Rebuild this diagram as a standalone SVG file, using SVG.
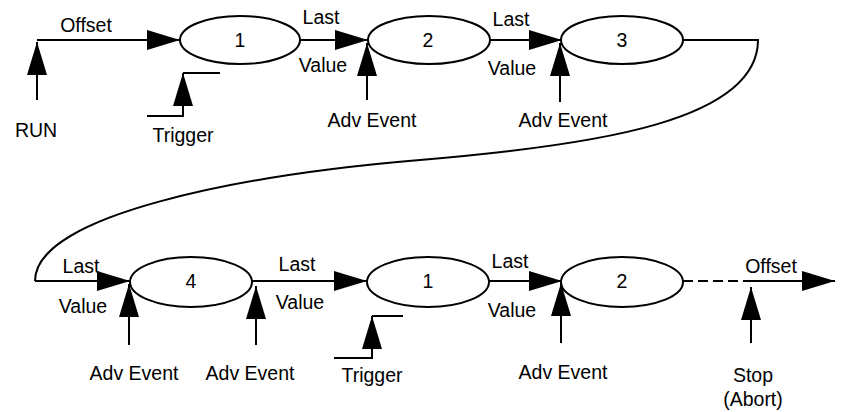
<svg xmlns="http://www.w3.org/2000/svg" width="843" height="412" viewBox="0 0 843 412">
<style>
.ln{fill:none;stroke:#000;stroke-width:2}
.ar{marker-end:url(#ah)}
.dash{stroke-dasharray:10 5}
.nd{fill:#fff;stroke:#000;stroke-width:2}
text{font-family:"Liberation Sans",Arial,sans-serif;font-size:19.5px;fill:#000;text-anchor:middle}
</style>
<defs>
<marker id="ah" viewBox="0 0 33 20" refX="33" refY="10" markerWidth="33" markerHeight="20" markerUnits="userSpaceOnUse" orient="auto">
<path d="M0,0 L33,10 L0,20 z" fill="#000"/>
</marker>
</defs>
<rect width="843" height="412" fill="#fff"/>
<g id="connectors">
<path class="ln ar" d="M37,40 H180"/>
<path class="ln ar" d="M37,100 V42"/>
<path class="ln ar" d="M147,116 H183 V73"/>
<path class="ln" d="M183,73 H220"/>
<path class="ln ar" d="M300,40 H368"/>
<path class="ln ar" d="M367,100 V43"/>
<path class="ln ar" d="M490,40 H562"/>
<path class="ln ar" d="M560,102 V43"/>
<path class="ln" d="M683,40 H758 C758,120 600,145 420,160 S35,215 35,281"/>
<path class="ln ar" d="M35,281 H130"/>
<path class="ln ar" d="M129,345 V284"/>
<path class="ln ar" d="M252,281 H367"/>
<path class="ln ar" d="M256,345 V286"/>
<path class="ln ar" d="M334,358 H372 V316"/>
<path class="ln" d="M372,316 H403"/>
<path class="ln ar" d="M488,281 H562"/>
<path class="ln ar" d="M561,343 V283"/>
<path class="ln dash" d="M683,281 H750"/>
<path class="ln ar" d="M750,281 H835"/>
<path class="ln ar" d="M751,343 V287"/>
</g>
<g id="node-1a"><ellipse class="nd" cx="240" cy="40" rx="60" ry="24"/><text x="240" y="47">1</text></g>
<g id="node-2a"><ellipse class="nd" cx="429" cy="40" rx="61" ry="24"/><text x="428" y="47">2</text></g>
<g id="node-3"><ellipse class="nd" cx="622" cy="40" rx="61" ry="24"/><text x="622" y="47">3</text></g>
<g id="node-4"><ellipse class="nd" cx="191" cy="282" rx="61" ry="25"/><text x="191" y="288">4</text></g>
<g id="node-1b"><ellipse class="nd" cx="428" cy="282" rx="61" ry="25"/><text x="428" y="288">1</text></g>
<g id="node-2b"><ellipse class="nd" cx="622" cy="282" rx="61" ry="25"/><text x="622" y="288">2</text></g>
<g id="labels">
<text x="86" y="32">Offset</text>
<text x="36" y="137">RUN</text>
<text x="183" y="142">Trigger</text>
<text x="321" y="24">Last</text>
<text x="323" y="72">Value</text>
<text x="372" y="127">Adv Event</text>
<text x="511" y="26">Last</text>
<text x="512" y="75">Value</text>
<text x="563" y="127">Adv Event</text>
<text x="81" y="273">Last</text>
<text x="83" y="313">Value</text>
<text x="134" y="380">Adv Event</text>
<text x="250" y="380">Adv Event</text>
<text x="297" y="271">Last</text>
<text x="300" y="309">Value</text>
<text x="372" y="382">Trigger</text>
<text x="510" y="268">Last</text>
<text x="512" y="317">Value</text>
<text x="563" y="379">Adv Event</text>
<text x="771" y="273">Offset</text>
<text x="753" y="382">Stop</text>
<text x="753" y="406">(Abort)</text>
</g>
</svg>
